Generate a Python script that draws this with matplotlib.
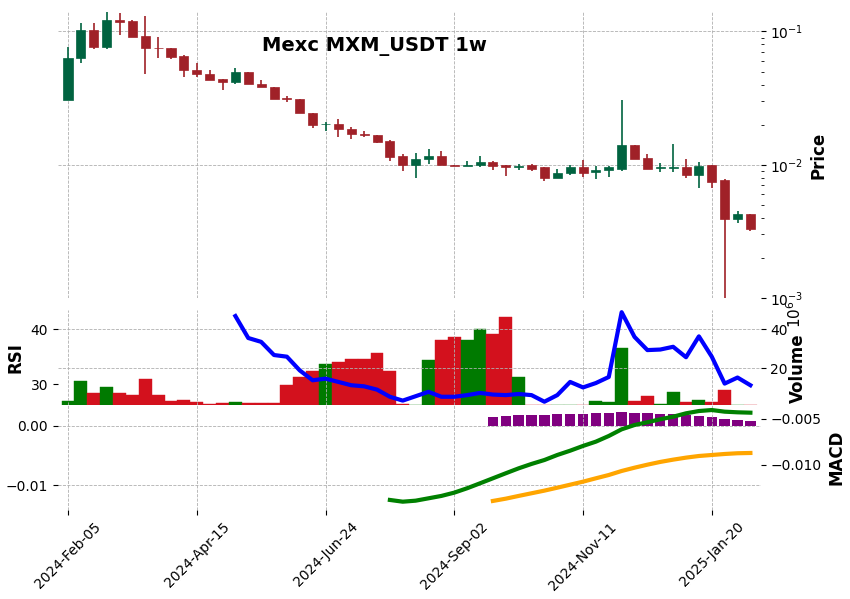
import numpy as np
import matplotlib
matplotlib.use("Agg")
import matplotlib.pyplot as plt
import matplotlib.ticker as mticker

dates = ["2024-Feb-05", "2024-Apr-15", "2024-Jun-24", "2024-Sep-02", "2024-Nov-11", "2025-Jan-20"]
tick_idx = [0, 10, 20, 30, 40, 50]

opens = [.0304,.0630,.1017,.0762,.121,.119,.0917,.0754,.0758,.0649,.0518,.0483,.0443,.0416,.0500,.0406,.0386,.0319,.0313,.0245,
         .0201,.0203,.0187,.0170,.0168,.0150,.0117,.0100,.0110,.0117,.0100,.00978,.00988,.0104,.00988,.00961,.00988,.00955,.00798,.00861,
         .00966,.00875,.00906,.00933,.0141,.0113,.00945,.00945,.00966,.00831,.00988,.00762,.00393,.00430]
highs = [.0762,.116,.116,.143,.138,.121,.131,.0906,.0758,.0668,.0582,.0515,.0443,.0533,.0500,.0434,.0386,.0329,.0313,.0245,
         .0211,.0221,.0191,.0179,.0168,.0154,.0121,.0122,.0131,.0126,.0100,.0106,.0117,.0106,.00988,.0101,.0101,.00955,.00928,.00995,
         .0108,.00971,.00971,.0308,.0141,.0121,.0103,.0144,.0110,.0105,.00988,.00785,.00453,.00430]
lows = [.0304,.0582,.0741,.0741,.0933,.0906,.0483,.0634,.0623,.0456,.0456,.0436,.0365,.0404,.0402,.0381,.0313,.0296,.0243,.0188,
        .0179,.0162,.0156,.0162,.0145,.0107,.00897,.00794,.0101,.00988,.00971,.00978,.00961,.00912,.00827,.00906,.00891,.00758,.00798,.00837,
        .00803,.00775,.00803,.00897,.0110,.00933,.00886,.00875,.00789,.00668,.00671,.00093,.00365,.00318]
closes = [.0634,.1017,.0762,.121,.1175,.0906,.0749,.0749,.0645,.0512,.0478,.0436,.0416,.0500,.0402,.0381,.0313,.0310,.0243,.0197,
          .0203,.0186,.0169,.0167,.0147,.0115,.0100,.0111,.0117,.00988,.00971,.0100,.0104,.00971,.00961,.00983,.00933,.00798,.00871,.00966,
          .00871,.00917,.00955,.0141,.0111,.00933,.00955,.00966,.00831,.00983,.00745,.00393,.00430,.00330]
volume = [3.4,13.6,7.3,10.4,7.3,6.5,14.5,6.3,3.4,3.9,2.7,1.7,2.2,2.7,2.2,2.2,2.2,11.4,15.5,18.8,
          22.4,23.4,24.8,24.8,27.8,18.8,1.7,1.0,24.4,34.7,36.2,34.7,40.1,37.7,46.3,15.5,1.3,1.3,1.3,1.0,
          1.3,3.4,2.7,30.6,3.4,5.9,1.7,8.0,2.7,3.9,2.7,9.0,1.0,1.3]
rsi_start = 13
rsi = [42.4,38.4,37.7,35.3,35.0,32.5,30.7,31.0,30.4,29.8,29.6,29.0,27.7,27.0,27.8,28.6,27.7,27.7,28.0,28.4,
       28.1,28.0,28.2,28.0,26.8,28.0,30.4,29.4,30.2,31.3,43.1,38.6,36.2,36.3,36.8,34.9,38.7,35.0,30.1,31.2,29.8]
macd_start = 25
macd = [-.01386,-.01405,-.01394,-.01368,-.01342,-.01306,-.01258,-.01204,-.01149,-.01094,-.01040,-.00992,-.00949,-.00894,-.00847,
        -.00795,-.00748,-.00686,-.00613,-.00566,-.00536,-.00503,-.00475,-.00438,-.00413,-.00402,-.00420,-.00427,-.00431]
sig_start = 33
signal = [-.01397,-.01372,-.01342,-.01313,-.01284,-.01252,-.01219,-.01186,-.01149,-.01113,-.01069,-.01033,-.01000,-.00970,
          -.00945,-.00923,-.00905,-.00894,-.00883,-.00875,-.00872]
hist_start = 33
hist = [.00146,.00168,.0018,.0018,.00185,.0019,.00197,.00202,.00208,.00213,.00225,.0022,.00208,.0020,.0019,.0018,.00163,.00141,
        .00118,.00096,.00074]

UP, DN = '#006340', '#a02128'
VUP, VDN = '#007a00', '#d3111d'
W, H = 850, 599
fig = plt.figure(figsize=(8.5, 5.99), dpi=100)

def box(x0, y0, x1, y1):
    return [x0 / W, 1 - y1 / H, (x1 - x0) / W, (y1 - y0) / H]

def minus_fmt(fmt):
    return mticker.FuncFormatter(lambda v, p: (fmt % v).replace('-', '\u2212'))

L, R = 57.7, 760.7
ax1 = fig.add_axes(box(L, 12, R, 298))
axv = fig.add_axes(box(L, 310, R, 405))
axr = axv.twinx()
axm = fig.add_axes(box(L, 405, R, 510))
axm2 = axm.twinx()

n = len(opens)
x = np.arange(n)
xlim = (-0.8, n - 0.2)

def style(ax):
    for s in ax.spines.values():
        s.set_visible(False)
    ax.grid(True, color='#b0b0b0', linestyle='--', linewidth=0.6)
    ax.set_xlim(*xlim)

for i in range(n):
    c = UP if closes[i] >= opens[i] else DN
    ax1.vlines(x[i], lows[i], highs[i], color=c, linewidth=1.2, zorder=2)
    lo, hi = sorted([opens[i], closes[i]])
    ax1.bar(x[i], hi - lo, bottom=lo, width=0.7, color=c, edgecolor=c, linewidth=0.5, zorder=3)
ax1.set_yscale('log')
ax1.set_ylim(1e-3, 0.14)
style(ax1)
ax1.yaxis.tick_right()
ax1.yaxis.set_label_position('right')
ax1.set_ylabel('Price', fontsize=12, fontweight='bold')
ax1.tick_params(axis='x', labelbottom=False, length=0)
ax1.set_xticks(tick_idx)
ax1.text(0.45, 0.88, 'Mexc MXM_USDT 1w', transform=ax1.transAxes, ha='center', va='center',
         fontsize=14, fontweight='bold')

vcol = [VUP if closes[i] >= opens[i] else VDN for i in range(n)]
axv.bar(x, volume, width=1.0, color=vcol, edgecolor=vcol, linewidth=0.3)
axv.set_ylim(1.2, 50)
style(axv)
axv.yaxis.tick_right()
axv.set_yticks([20, 40])
axv.set_xticks(tick_idx)
axv.tick_params(axis='x', labelbottom=False, length=0)
fig.text(798 / W, 1 - 368 / H, 'Volume', rotation=90, ha='center', va='center',
         fontsize=12, fontweight='bold')
fig.text(795 / W, 1 - 314 / H, r'$10^6$', rotation=90, ha='center', va='center', fontsize=11)

axr.plot(x[rsi_start:rsi_start + len(rsi)], rsi, color='blue', linewidth=3)
axr.set_ylim(26.2, 43.5)
axr.set_xlim(*xlim)
for s in axr.spines.values():
    s.set_visible(False)
axr.yaxis.tick_left()
axr.yaxis.set_label_position('left')
axr.set_yticks([30, 40])
axr.set_ylabel('RSI', fontsize=12, fontweight='bold')
axr.grid(False)

axm.bar(x[hist_start:hist_start + len(hist)], hist, width=0.8, color='purple')
axm.set_ylim(-0.01414, 0.00347)
style(axm)
axm.set_yticks([0.0, -0.01])
axm.yaxis.set_major_formatter(minus_fmt('%.2f'))
axm.set_xticks(tick_idx)
axm.set_xticklabels(dates, rotation=45, ha='center', fontsize=10)
axm2.plot(x[macd_start:macd_start + len(macd)], macd, color='green', linewidth=3)
axm2.plot(x[sig_start:sig_start + len(signal)], signal, color='orange', linewidth=3)
axm2.set_ylim(-0.01496, -0.00347)
axm2.set_xlim(*xlim)
for s in axm2.spines.values():
    s.set_visible(False)
axm2.set_yticks([-0.005, -0.010])
axm2.yaxis.set_major_formatter(minus_fmt('%.3f'))
axm2.set_ylabel('MACD', fontsize=12, fontweight='bold')

fig.savefig('out.png', dpi=100)
